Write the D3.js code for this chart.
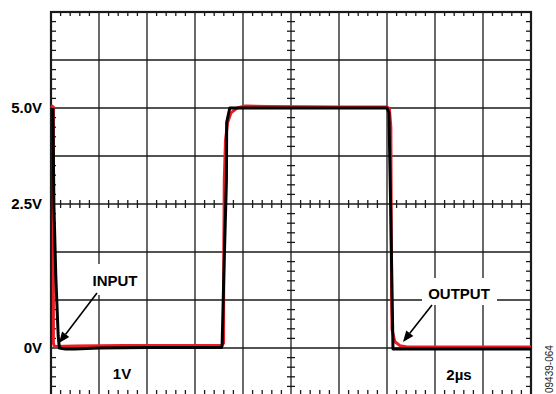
<!DOCTYPE html>
<html><head><meta charset="utf-8">
<script src="https://cdn.jsdelivr.net/npm/d3@7"></script>
<style>
html,body{margin:0;padding:0;background:#fff;}
svg{display:block;}
text{font-family:"Liberation Sans",Arial,sans-serif;}
</style></head>
<body>
<svg id="chart" width="556" height="394"></svg>
<script>
// ---- data (time in µs, voltage in V) ----
const inputT = [0, 0.1, 0.1, 0.14, 1.0, 3, 5, 7.1, 7.19, 7.2, 7.22, 7.27, 7.36, 7.5, 7.75, 8.1, 9, 12, 14.0, 14.1, 14.16, 14.19, 14.21, 14.33, 14.54, 14.83, 17, 20];
const inputV = [5.05, 5.02, 0.1, 0.03, 0.04, 0.05, 0.05, 0.05, 0.1, 2.0, 3.5, 4.33, 4.7, 4.9, 5.0, 5.04, 5.03, 5.02, 5.02, 4.98, 4.6, 1.0, 0.38, 0.13, 0.05, 0.02, 0.02, 0.02];
const outputT = [0.08, 0.12, 0.2, 0.3, 0.35, 0.6, 1.0, 2, 4, 7.1, 7.13, 7.2, 7.31, 7.32, 7.45, 14.0, 14.08, 14.15, 14.25, 20];
const outputV = [5.0, 3.0, 1.5, 0.25, 0.0, -0.02, -0.02, 0.0, 0.01, 0.01, 0.05, 1.5, 3.5, 4.7, 5.0, 5.0, 4.9, 3.0, -0.02, -0.02];
const yTickValues = [5, 3, 0];
const yTickLabels = ["5.0V", "2.5V", "0V"];
const scaleLabels = ["1V", "2µs"];
const traceLabels = ["INPUT", "OUTPUT"];
const figureId = "09439-064";

// ---- layout ----
const svg = d3.select("#chart");
const L = 51, R = 531, T = 12, B = 396;
const x = d3.scaleLinear().domain([0, 20]).range([L, R]);
const y = d3.scaleLinear().domain([-1, 7]).range([B, T]);
const gridColor = "#1a1a1a";

const g = svg.append("g");
// major grid
g.selectAll(".vg").data(d3.range(2, 20, 2)).enter().append("line")
  .attr("x1", d => x(d)).attr("x2", d => x(d)).attr("y1", T).attr("y2", B)
  .attr("stroke", gridColor).attr("stroke-width", 1.3);
g.selectAll(".hg").data(d3.range(0, 7, 1)).enter().append("line")
  .attr("y1", d => y(d)).attr("y2", d => y(d)).attr("x1", L).attr("x2", R)
  .attr("stroke", gridColor).attr("stroke-width", 1.3);

// minor ticks
const minorX = d3.range(0, 20.001, 0.4).filter(d => Math.abs(d / 2 - Math.round(d / 2)) > 1e-6);
const minorY = d3.range(-1, 7.001, 0.2).filter(d => Math.abs(d - Math.round(d)) > 1e-6);
const tl = 4;
minorX.forEach(d => {
  g.append("line").attr("x1", x(d)).attr("x2", x(d)).attr("y1", T).attr("y2", T + tl).attr("stroke", gridColor).attr("stroke-width", 1.3);
  g.append("line").attr("x1", x(d)).attr("x2", x(d)).attr("y1", B).attr("y2", B - tl - 2).attr("stroke", gridColor).attr("stroke-width", 1.3);
  g.append("line").attr("x1", x(d)).attr("x2", x(d)).attr("y1", y(3) - tl).attr("y2", y(3) + tl).attr("stroke", gridColor).attr("stroke-width", 1.3);
});
minorY.forEach(d => {
  g.append("line").attr("y1", y(d)).attr("y2", y(d)).attr("x1", L).attr("x2", L + tl + 1).attr("stroke", gridColor).attr("stroke-width", 1.3);
  g.append("line").attr("y1", y(d)).attr("y2", y(d)).attr("x1", R).attr("x2", R - tl - 1).attr("stroke", gridColor).attr("stroke-width", 1.3);
  g.append("line").attr("y1", y(d)).attr("y2", y(d)).attr("x1", x(10) - tl).attr("x2", x(10) + tl).attr("stroke", gridColor).attr("stroke-width", 1.3);
});
// frame
g.append("rect").attr("x", L).attr("y", T).attr("width", R - L).attr("height", B - T)
  .attr("fill", "none").attr("stroke", gridColor).attr("stroke-width", 2.2);

// text boxes (white backgrounds)
svg.append("rect").attr("x", 86).attr("y", 264).attr("width", 57).attr("height", 31).attr("fill", "#fff");
svg.append("rect").attr("x", 422).attr("y", 278).attr("width", 75).attr("height", 27).attr("fill", "#fff");

// traces
const line = d3.line().x(d => x(d[0])).y(d => y(d[1]));
svg.append("path").datum(d3.zip(inputT, inputV)).attr("d", line)
  .attr("fill", "none").attr("stroke", "#ec1c24").attr("stroke-width", 3).attr("stroke-linejoin", "round");
svg.append("path").datum(d3.zip(outputT, outputV)).attr("d", line)
  .attr("fill", "none").attr("stroke", "#000").attr("stroke-width", 3).attr("stroke-linejoin", "round");

// y labels
svg.selectAll(".yl").data(yTickValues).enter().append("text")
  .attr("x", 42).attr("y", d => y(d)).attr("dy", "0.36em")
  .attr("text-anchor", "end").attr("font-size", 15).attr("font-weight", "bold")
  .text((d, i) => yTickLabels[i]);

// scale labels
svg.append("text").attr("x", 122).attr("y", 379).attr("text-anchor", "middle")
  .attr("font-size", 15).attr("font-weight", "bold").text(scaleLabels[0]);
svg.append("text").attr("x", 459).attr("y", 380).attr("text-anchor", "middle")
  .attr("font-size", 15).attr("font-weight", "bold").text(scaleLabels[1]);

// trace labels
svg.append("text").attr("x", 115).attr("y", 286).attr("text-anchor", "middle")
  .attr("font-size", 15).attr("font-weight", "bold").text(traceLabels[0]);
svg.append("text").attr("x", 459).attr("y", 299).attr("text-anchor", "middle")
  .attr("font-size", 15).attr("font-weight", "bold").text(traceLabels[1]);

// arrows
function arrow(x1, y1, x2, y2) {
  const ang = Math.atan2(y2 - y1, x2 - x1);
  const len = 11, w = 4.5;
  const bx = x2 - len * Math.cos(ang), by = y2 - len * Math.sin(ang);
  svg.append("line").attr("x1", x1).attr("y1", y1).attr("x2", bx).attr("y2", by)
    .attr("stroke", "#000").attr("stroke-width", 1.6);
  const px = -Math.sin(ang) * w, py = Math.cos(ang) * w;
  svg.append("path").attr("d", `M${x2},${y2}L${bx + px},${by + py}L${bx - px},${by - py}Z`).attr("fill", "#000");
}
arrow(97, 293, 59, 343);
arrow(432, 305, 403, 342);

// figure id
svg.append("text").attr("transform", "translate(553,393) rotate(-90)")
  .attr("font-size", 10).attr("fill", "#222").text(figureId);
</script>
</body></html>
